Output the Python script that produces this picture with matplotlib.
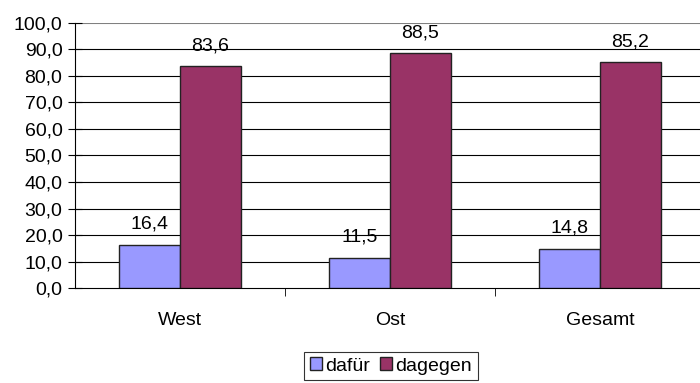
import numpy as np
import matplotlib.pyplot as plt
from matplotlib.ticker import FixedLocator

plt.rcParams['font.family'] = ['Liberation Sans', 'DejaVu Sans']

regions = ['West', 'Ost', 'Gesamt']
dafuer = [16.4, 11.5, 14.8]
dagegen = [83.6, 88.5, 85.2]

fig = plt.figure(figsize=(7, 3.83), dpi=100)
ax = fig.add_axes([0.107, 0.248, 0.9, 0.692])

x = np.arange(len(regions))
w = 0.29
b1 = ax.bar(x - w/2, dafuer, w, color='#9999FF', edgecolor='#222222', lw=1, label='dafür', zorder=3)
b2 = ax.bar(x + w/2, dagegen, w, color='#993366', edgecolor='#222222', lw=1, label='dagegen', zorder=3)

def fmt(v):
    return ('%.1f' % v).replace('.', ',')

for bars in (b1, b2):
    for r in bars:
        ax.text(r.get_x() + r.get_width()/2, r.get_height() + 4.5, fmt(r.get_height()),
                ha='center', va='bottom', fontsize=14)

ax.set_xlim(-0.5, 2.5)
ax.set_ylim(0, 100)
ax.set_yticks(np.arange(0, 101, 10))
ax.set_yticklabels([fmt(v) for v in np.arange(0, 101, 10)], fontsize=14)
ax.set_xticks(x)
ax.set_xticklabels(regions, fontsize=14)
ax.tick_params(axis='x', length=0, pad=17)
ax.xaxis.set_minor_locator(FixedLocator([0.5, 1.5]))
ax.tick_params(axis='x', which='minor', length=6, color='black')
ax.tick_params(axis='y', direction='inout', length=10, color='black', pad=4)

for yv in np.arange(10, 100, 10):
    ax.axhline(yv, color='black', lw=0.8, zorder=1)
ax.axhline(100, color='#808080', lw=1.5, zorder=1)

for s in ['top', 'right']:
    ax.spines[s].set_visible(False)
ax.spines['left'].set_color('black')
ax.spines['bottom'].set_color('black')

leg = fig.legend(handles=[b1, b2], loc='center', bbox_to_anchor=(391/700, 1 - 366/383),
                 ncol=2, frameon=True, fancybox=False, fontsize=14, handlelength=0.6,
                 handleheight=0.6, handletextpad=0.2, columnspacing=0.5, borderpad=0.3)
leg.get_frame().set_edgecolor('black')
leg.get_frame().set_linewidth(0.8)

fig.savefig('out.png', dpi=100)
